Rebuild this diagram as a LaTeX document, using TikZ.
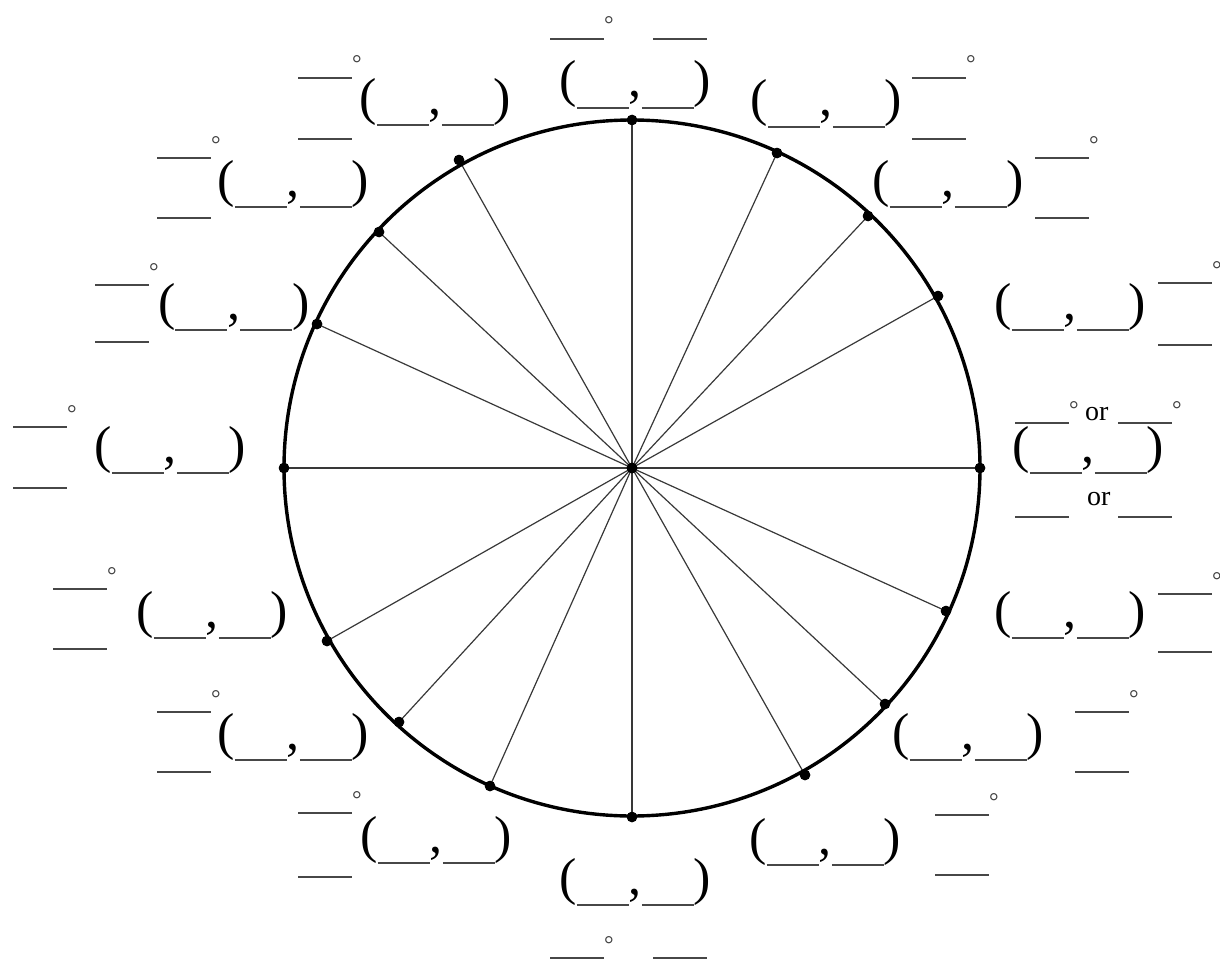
\documentclass[tikz,border=0pt]{standalone}
\usepackage{fontspec}
\setmainfont{Liberation Serif}
\newcommand{\blankline}{\textcolor{black!72}{\rule[-1pt]{54pt}{2pt}}}
\newcommand{\degblank}{\fontsize{24}{26}\selectfont\blankline\raisebox{6pt}{\textcolor{black!75}{°}}}
\newcommand{\coordblank}{\fontsize{52}{56}\selectfont(\textcolor{black!72}{\rule[-12pt]{52pt}{2pt}},\textcolor{black!72}{\rule[-12pt]{52pt}{2pt}})}
\begin{document}
\begin{tikzpicture}[x=1pt,y=-1pt,
  lbl/.style={inner sep=0pt, outer sep=0pt, anchor=base west, text=black},
  dot/.style={circle, fill=black, inner sep=0pt, minimum size=10.5pt},
  spoke/.style={line width=1.2pt, draw=black!78},
  rim/.style={line width=3.4pt, draw=black}]
\useasboundingbox (0,0) rectangle (1220,963);
% circle and spokes
\coordinate (c) at (632,468);
\foreach \n/\x/\y in {a90/632/120, a60/777/153, a45/868/216, a30/938/296, a0/980/468,
  a330/946/611, a315/885/704, a300/805/775, a270/632/817, a240/490/786, a225/399/722,
  a210/327/641, a180/284/468, a150/317/324, a135/379/232, a120/459/160}{
  \node[dot] (\n) at (\x,\y) {};
  \draw[spoke] (c) -- (\n.center);
}
\draw[rim] (c) circle[radius=348];
\node[circle, fill=black, inner sep=0pt, minimum size=11pt] (cdot) at (c) {};
\foreach \n in {a90,a60,a45,a30,a0,a330,a315,a300,a270,a240,a225,a210,a180,a150,a135,a120}{
  \node[dot] at (\n.center) {};
}
% coordinate blanks
\foreach \n/\x/\y in {c90/559.5/97, c60/750.5/116, c45/872.5/196, c30/994.5/319, c0/1012.5/462,
  c330/994.5/627, c315/892.5/749, c300/749.5/854, c270/559.5/894, c240/360.5/852,
  c225/217.5/749, c210/136.5/627, c180/94.5/462, c150/158/319, c135/217.5/196, c120/359.5/114}{
  \node[lbl] (\n) at (\x,\y) {\coordblank};
}
% degree blanks
\foreach \n/\x/\y in {d90/550/39, d60/912/78, d45/1035/158, d30/1158/283,
  d330/1158/594, d315/1075/712, d300/935/815, d270/550/958, d240/298/813,
  d225/157/712, d210/53/589, d180/13/427, d150/95/285, d135/157/158, d120/298/78}{
  \node[lbl] (\n) at (\x,\y) {\degblank};
}
% radian blanks
\foreach \n/\x/\y in {r90/653/39, r60/912/139, r45/1035/218, r30/1158/345,
  r330/1158/652, r315/1075/772, r300/935/875, r270/653/958, r240/298/877,
  r225/157/772, r210/53/649, r180/13/488, r150/95/342, r135/157/218, r120/298/139}{
  \node[lbl] (\n) at (\x,\y) {\blankline};
}
% zero angle: two alternatives
\node[lbl] (d0a) at (1015,423) {\degblank};
\node[lbl] (or1) at (1085,420) {\fontsize{28}{30}\selectfont or};
\node[lbl] (d0b) at (1118,423) {\degblank};
\node[lbl] (r0a) at (1015,517) {\blankline};
\node[lbl] (or2) at (1087,505) {\fontsize{28}{30}\selectfont or};
\node[lbl] (r0b) at (1118,517) {\blankline};
\end{tikzpicture}
\end{document}
